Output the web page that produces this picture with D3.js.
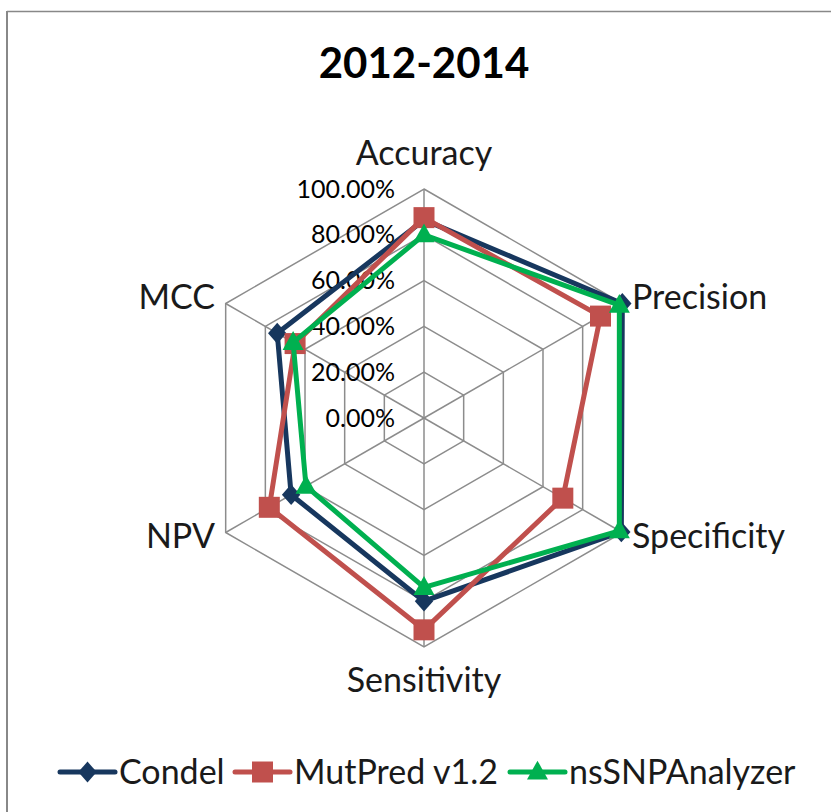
<!DOCTYPE html>
<html>
<head>
<meta charset="utf-8">
<script src="https://cdn.jsdelivr.net/npm/d3@7"></script>
<style>
  body { margin: 0; background: #fff; }
  svg { display: block; font-family: Lato, "Open Sans", sans-serif; }
</style>
</head>
<body>
<svg width="831" height="812"></svg>
<script>
// data
const metrics = ["Accuracy", "Precision", "Specificity", "Sensitivity", "NPV", "MCC"];
const condel = [0.865, 1.0, 0.995, 0.80, 0.67, 0.74];
const mutpred = [0.875, 0.89, 0.70, 0.925, 0.78, 0.65];
const nssnp = [0.80, 0.985, 0.985, 0.74, 0.595, 0.66];
const tickValues = [0, 0.2, 0.4, 0.6, 0.8, 1.0];
const seriesNames = ["Condel", "MutPred v1.2", "nsSNPAnalyzer"];

// Excel-like marker shapes (size = bounding box width/height in px)
const diamond = {
  draw(ctx, size) {
    const w = size * 0.46, h = size * 0.52;
    ctx.moveTo(0, -h); ctx.lineTo(w, 0); ctx.lineTo(0, h); ctx.lineTo(-w, 0); ctx.closePath();
  }
};
const square = {
  draw(ctx, size) {
    const h = size / 2;
    ctx.rect(-h, -h, size, size);
  }
};
const triangle = {
  draw(ctx, size) {
    const w = size / 2, h = size * 0.9;
    ctx.moveTo(0, -h * 0.6); ctx.lineTo(w, h * 0.4); ctx.lineTo(-w, h * 0.4); ctx.closePath();
  }
};

document.addEventListener("DOMContentLoaded", function () {
  const svg = d3.select("svg");
  const cx = 424, cy = 418, R = 229;

  const colors = ["#17375E", "#C0504D", "#00B050"];
  const symbols = [diamond, square, triangle];
  const symSizes = [20, 21, 21];

  // outer frame (only top and left edges show)
  svg.append("line").attr("x1", 7).attr("x2", 831).attr("y1", 11.5).attr("y2", 11.5)
    .attr("stroke", "#888").attr("stroke-width", 1.5);
  svg.append("line").attr("x1", 7).attr("x2", 7).attr("y1", 11).attr("y2", 812)
    .attr("stroke", "#888").attr("stroke-width", 2);

  // title
  svg.append("text")
    .attr("x", cx).attr("y", 78)
    .attr("text-anchor", "middle")
    .style("font-size", "42px").style("font-weight", "bold")
    .text("2012-2014");

  const r = d3.scaleLinear().domain([0, 1]).range([0, R]);
  const angle = d3.scalePoint().domain(metrics).range([0, 2 * Math.PI * (metrics.length - 1) / metrics.length]);

  const g = svg.append("g").attr("transform", `translate(${cx},${cy})`);

  // grid hexagons
  const gridLine = d3.lineRadial()
    .angle((d) => angle(d))
    .curve(d3.curveLinearClosed);
  tickValues.filter((t) => t > 0).forEach((t) => {
    g.append("path")
      .attr("d", gridLine.radius(r(t))(metrics))
      .attr("fill", "none")
      .attr("stroke", "#8c8c8c")
      .attr("stroke-width", 1.5);
  });

  // spokes
  g.selectAll(".spoke").data(metrics).enter().append("line")
    .attr("class", "spoke")
    .attr("x1", 0).attr("y1", 0)
    .attr("x2", (d) => r(1) * Math.sin(angle(d)))
    .attr("y2", (d) => -r(1) * Math.cos(angle(d)))
    .attr("stroke", "#8c8c8c")
    .attr("stroke-width", 1.5);

  // value axis labels
  const yAxisScale = d3.scaleLinear().domain([0, 1]).range([0, -R]);
  const yAxis = d3.axisLeft(yAxisScale)
    .tickValues(tickValues)
    .tickSize(0)
    .tickPadding(29)
    .tickFormat(d3.format(".2%"));
  const ax = g.append("g").call(yAxis);
  ax.select(".domain").remove();
  ax.selectAll("text")
    .style("font-family", "Lato, sans-serif")
    .style("font-size", "25px")
    .attr("fill", "#000");

  // category labels
  const labelPos = {
    Accuracy: { x: 0, y: -253, anchor: "middle" },
    Precision: { x: 208, y: -109, anchor: "start" },
    Specificity: { x: 208, y: 130, anchor: "start" },
    Sensitivity: { x: 0, y: 274, anchor: "middle" },
    NPV: { x: -209, y: 130, anchor: "end" },
    MCC: { x: -209, y: -109, anchor: "end" },
  };
  g.selectAll(".cat").data(metrics).enter().append("text")
    .attr("class", "cat")
    .attr("x", (d) => labelPos[d].x)
    .attr("y", (d) => labelPos[d].y)
    .attr("text-anchor", (d) => labelPos[d].anchor)
    .attr("fill", "#1a1a1a")
    .style("font-size", "34px")
    .text((d) => d);

  // series
  const seriesData = [condel, mutpred, nssnp];
  const line = d3.lineRadial()
    .angle((d, i) => angle(metrics[i]))
    .radius((d) => r(d))
    .curve(d3.curveLinearClosed);

  seriesData.forEach((vals, s) => {
    const sg = g.append("g");
    sg.append("path")
      .attr("d", line(vals))
      .attr("fill", "none")
      .attr("stroke", colors[s])
      .attr("stroke-width", 5)
      .attr("stroke-linejoin", "round");
    sg.selectAll("path.marker").data(vals).enter().append("path")
      .attr("class", "marker")
      .attr("transform", (d, i) => {
        const a = angle(metrics[i]);
        return `translate(${r(d) * Math.sin(a)},${-r(d) * Math.cos(a)})`;
      })
      .attr("d", d3.symbol().type(symbols[s]).size(symSizes[s]))
      .attr("fill", colors[s]);
  });

  // legend
  const legendX = [60, 235, 510];
  const legendY = 772;
  const lg = svg.append("g");
  seriesNames.forEach((name, s) => {
    const x0 = legendX[s];
    lg.append("line")
      .attr("x1", x0).attr("x2", x0 + 55)
      .attr("y1", legendY).attr("y2", legendY)
      .attr("stroke", colors[s]).attr("stroke-width", 5)
      .attr("stroke-linecap", "round");
    lg.append("path")
      .attr("transform", `translate(${x0 + 27.5},${legendY})`)
      .attr("d", d3.symbol().type(symbols[s]).size(symSizes[s]))
      .attr("fill", colors[s]);
    lg.append("text")
      .attr("x", x0 + 59).attr("y", legendY + 12)
      .attr("fill", "#1a1a1a")
      .style("font-size", "34px")
      .text(name);
  });
});
</script>
</body>
</html>
